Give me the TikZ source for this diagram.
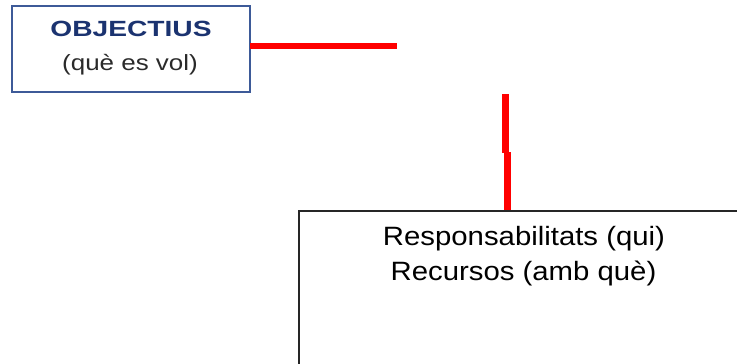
\documentclass[tikz,border=0pt]{standalone}
\usepackage{fontspec}
\setmainfont{Liberation Sans}
\usepackage{graphicx}
\definecolor{navy}{HTML}{1B3370}
\definecolor{boxblue}{HTML}{3D5A98}
\definecolor{txtgray}{HTML}{2A2A2A}
\definecolor{linered}{HTML}{FF0000}
\tikzset{
  smallbox/.style={draw=boxblue, line width=1.5pt, fill=white, rectangle, inner sep=0pt, minimum width=238pt, minimum height=86pt},
  bigbox/.style={draw=black!85, line width=2pt, fill=white, rectangle, inner sep=0pt, minimum width=480pt, minimum height=220pt, anchor=north west},
  redline/.style={draw=linered, line width=6.8pt},
  lbl/.style={anchor=base, inner sep=0pt}
}
\begin{document}
\begin{tikzpicture}[x=1pt,y=-1pt]
\useasboundingbox (0,0) rectangle (737,364);
\clip (0,0) rectangle (737,364);
\node[smallbox] (obj) at (131,49) {};
\node[lbl, text=navy] (objt) at (131,36.5) {\scalebox{1.28}[1]{\fontsize{22pt}{24pt}\selectfont\bfseries OBJECTIUS}};
\node[lbl, text=txtgray] (objs) at (130,70.5) {\scalebox{1.18}[1]{\fontsize{22pt}{24pt}\selectfont (què es vol)}};
\node[bigbox] (big) at (298,209.5) {};
\node[lbl, text=black] (resp) at (524,245.5) {\scalebox{1.107}[1]{\fontsize{26.5pt}{30pt}\selectfont Responsabilitats (qui)}};
\node[lbl, text=black] (recu) at (523.5,280) {\scalebox{1.107}[1]{\fontsize{26.5pt}{30pt}\selectfont Recursos (amb què)}};
\coordinate (h0) at (250,46);
\coordinate (h1) at (397,46);
\coordinate (v1a) at (505.5,94);
\coordinate (v1b) at (505.5,153);
\coordinate (v2a) at (507.2,152);
\draw[redline] (h0) -- (h1);
\draw[redline] (v1a) -- (v1b);
\draw[redline] (v2a) -- (v2a |- big.north);
\end{tikzpicture}
\end{document}
